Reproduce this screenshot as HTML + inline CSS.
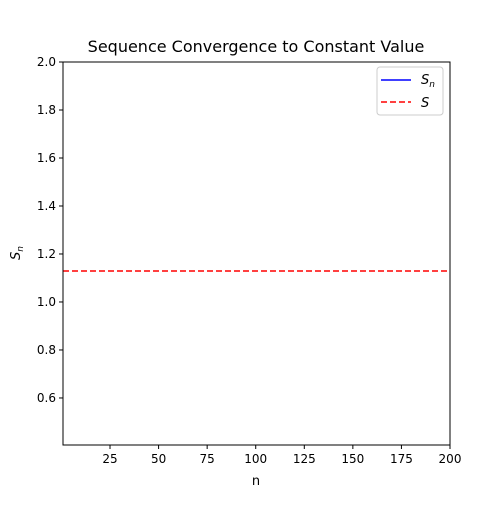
<!DOCTYPE html>
<html><head><meta charset="utf-8"><style>
body{margin:0;background:#fff;}
svg text{font-family:"DejaVu Sans","Liberation Sans",sans-serif;}
</style></head><body>
<svg id="chart" width="500" height="500" xmlns="http://www.w3.org/2000/svg">
<rect width="500" height="500" fill="#fff"/>
<defs><clipPath id="plotclip"><rect x="63" y="62" width="387" height="383"/></clipPath></defs>
<text x="256" y="52" font-size="16" text-anchor="middle">Sequence Convergence to Constant Value</text>
<g id="xticks"></g>
<g id="yticks"></g>
<g id="series" clip-path="url(#plotclip)"></g>
<rect x="63" y="62" width="387" height="383" fill="none" stroke="#000" stroke-width="1"/>
<text x="256" y="485" font-size="13" text-anchor="middle">n</text>
<text transform="translate(20,253) rotate(-90)" font-size="13" text-anchor="middle" font-style="italic">S<tspan font-size="9" dy="3">n</tspan></text>
<g>
<rect x="377" y="67" width="66" height="48" rx="3" fill="#fff" stroke="#ccc"/>
<line x1="381" y1="80" x2="411" y2="80" stroke="#0000ff" stroke-width="1.5"/>
<text x="421" y="84" font-size="13" font-style="italic">S<tspan font-size="9" dy="3">n</tspan></text>
<line x1="381" y1="102" x2="411" y2="102" stroke="#ff0000" stroke-width="1.5" stroke-dasharray="6,3"/>
<text x="421" y="107" font-size="13" font-style="italic">S</text>
</g>
</svg>
<script>
const xTickValues=[25,50,75,100,125,150,175,200];
const yTickValues=[0.6,0.8,1.0,1.2,1.4,1.6,1.8,2.0];
const nValues=[1,200];
const snValues=[5,5];
const limitValue=[1.129];
const X0=63,X1=450,Y0=445,Y1=62,xmin=0.8,xmax=200,ymin=0.404,ymax=2.0;
const NS="http://www.w3.org/2000/svg";
function sx(v){return X0+(v-xmin)/(xmax-xmin)*(X1-X0);}
function sy(v){return Y0-(v-ymin)/(ymax-ymin)*(Y0-Y1);}
function mk(t,a){const e=document.createElementNS(NS,t);for(const k in a)e.setAttribute(k,a[k]);return e;}
const xg=document.getElementById('xticks'),yg=document.getElementById('yticks'),sg=document.getElementById('series');
xTickValues.forEach(v=>{const x=sx(v);
const l=mk('line',{x1:x,x2:x,y1:Y0,y2:Y0+4,stroke:'#000'});


xg.appendChild(l);
const t=mk('text',{x:x,y:Y0+18,'font-size':12,'text-anchor':'middle'});t.textContent=v;


xg.appendChild(t);});
yTickValues.forEach(v=>{const y=sy(v);
const l=mk('line',{x1:X0-4,x2:X0,y1:y,y2:y,stroke:'#000'});


yg.appendChild(l);
const t=mk('text',{x:X0-7,y:y+4,'font-size':12,'text-anchor':'end'});t.textContent=v.toFixed(1);


yg.appendChild(t);});
const pts=nValues.map((n,i)=>sx(n)+','+sy(snValues[i])).join(' ');
const pl=mk('polyline',{points:pts,fill:'none',stroke:'#0000ff','stroke-width':1.5});


sg.appendChild(pl);
const hl=mk('line',{x1:X0,x2:X1,y1:sy(limitValue[0]),y2:sy(limitValue[0]),stroke:'#ff0000','stroke-width':1.5,'stroke-dasharray':'6,3'});


sg.appendChild(hl);
</script>
</body></html>
